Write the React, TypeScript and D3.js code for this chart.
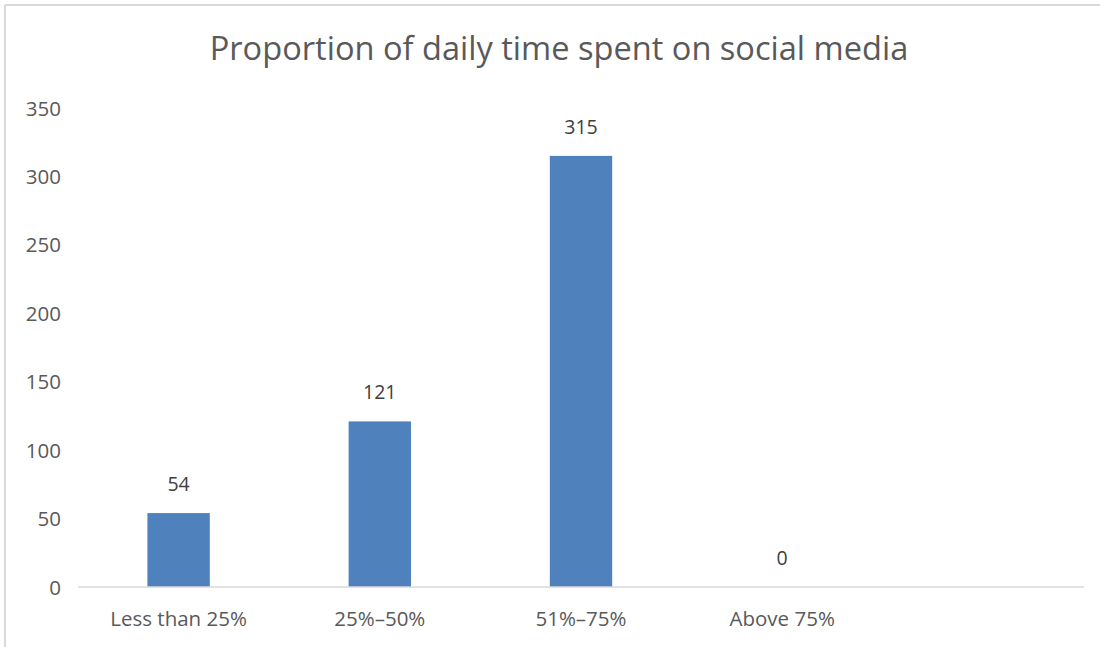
import React from "react";
import * as d3 from "d3";

const categories = ["Less than 25%", "25%–50%", "51%–75%", "Above 75%", ""];
const values: (number | null)[] = [54, 121, 315, 0, null];
const yTicks = [0, 50, 100, 150, 200, 250, 300, 350];
const title = "Proportion of daily time spent on social media";

const W = 1100;
const H = 647;
const FONT = "'Open Sans', 'Liberation Sans', sans-serif";
const TEXT = "#595959";

export default function App() {
  const keys = categories.map((c, i) => i + "");
  const x = d3.scaleBand<string>().domain(keys).range([78, 1084]).paddingInner(0.69).paddingOuter(0.345);
  const y = d3.scaleLinear().domain([0, 350]).range([587, 108]);
  const band = d3.scaleBand<string>().domain(keys).range([78, 1084]);

  return (
    <svg width={W} height={H} style={{ position: "absolute", left: 0, top: 0, background: "#fff" }}>
      <rect x={0} y={0} width={W} height={H} fill="#fff" />
      <line x1={5} y1={5} x2={W} y2={5} stroke="#d9d9d9" strokeWidth={2} />
      <line x1={5} y1={5} x2={5} y2={H} stroke="#d9d9d9" strokeWidth={2} />
      <text x={559} y={60} textAnchor="middle" fontFamily={FONT} fontSize={32.6} fill={TEXT}>
        {title}
      </text>
      {yTicks.map((t) => (
        <text key={t} x={61} y={y(t) + 7.5} textAnchor="end" fontFamily={FONT} fontSize={20.5} fill={TEXT}>
          {t}
        </text>
      ))}
      {values.map((v, i) =>
        v === null ? null : (
          <g key={i}>
            {v > 0 && (
              <rect x={x(i + "")!} y={y(v)} width={x.bandwidth()} height={y(0) - y(v)} fill="#4f81bd" />
            )}
            <text
              x={x(i + "")! + x.bandwidth() / 2}
              y={y(v) - 22}
              textAnchor="middle"
              fontFamily={FONT}
              fontSize={19.5}
              fill="#404040"
            >
              {v}
            </text>
          </g>
        )
      )}
      <line x1={78} y1={587} x2={1084} y2={587} stroke="#d9d9d9" strokeWidth={1.5} />
      {categories.map((c, i) => (
        <text
          key={i}
          x={band(i + "")! + band.bandwidth() / 2}
          y={626}
          textAnchor="middle"
          fontFamily={FONT}
          fontSize={20.5}
          fill={TEXT}
        >
          {c}
        </text>
      ))}
    </svg>
  );
}
